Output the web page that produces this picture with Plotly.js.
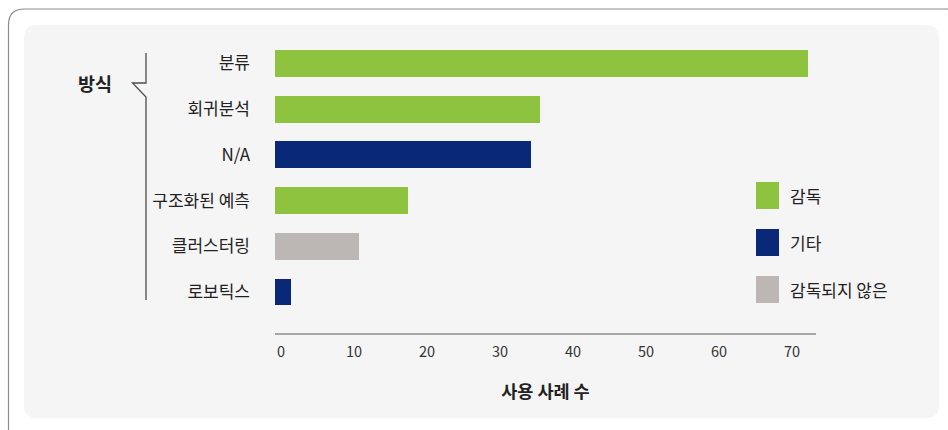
<!DOCTYPE html>
<html>
<head>
<meta charset="utf-8">
<script src="https://cdn.plot.ly/plotly-3.0.1.min.js"></script>
<style>
  html, body { margin: 0; padding: 0; background: #ffffff; }
  #chart { width: 948px; height: 430px; }
</style>
</head>
<body>
<div id="chart"></div>
<script>
// ---- Data ----
const categories = ['분류', '회귀분석', 'N/A', '구조화된 예측', '클러스터링', '로보틱스'];
const values = [73, 36.3, 35.1, 18.2, 11.5, 2.2];
const types = ['감독', '감독', '기타', '감독', '감독되지 않은', '기타'];
const legendNames = ['감독', '기타', '감독되지 않은'];
const legendColors = ['#8DC33E', '#0A2878', '#BCB6B5'];
const xTicks = [0, 10, 20, 30, 40, 50, 60, 70];
const groupLabel = '방식';
const xTitle = '사용 사례 수';

// ---- Layout geometry (pixels) ----
const W = 948, H = 430;
const ML = 275, MR = 132, MT = 40, MB = 97;
const plotW = W - ML - MR, plotH = H - MT - MB;
const px = p => (p - ML) / plotW;          // pixel x -> paper x
const py = p => (H - MB - p) / plotH;      // pixel y -> paper y
const FONT = '"Noto Sans CJK KR", "Noto Sans", sans-serif';

const traces = legendNames.map((name, k) => {
  const ys = [], xs = [];
  categories.forEach((c, i) => { if (types[i] === name) { ys.push(c); xs.push(values[i]); } });
  return {
    type: 'bar', orientation: 'h', name: name,
    x: xs, y: ys,
    marker: { color: legendColors[k] },
    hoverinfo: 'x+y', showlegend: false
  };
});

function roundRect(x0, y0, x1, y1, r) {
  const X0 = px(x0), X1 = px(x1), Y0 = py(y0), Y1 = py(y1);
  const rx = r / plotW, ry = r / plotH;
  return `M${X0 + rx},${Y0} L${X1 - rx},${Y0} Q${X1},${Y0} ${X1},${Y0 - ry} ` +
         `L${X1},${Y1 + ry} Q${X1},${Y1} ${X1 - rx},${Y1} L${X0 + rx},${Y1} ` +
         `Q${X0},${Y1} ${X0},${Y1 + ry} L${X0},${Y0 - ry} Q${X0},${Y0} ${X0 + rx},${Y0} Z`;
}

const shapes = [
  // outer card border
  { type: 'path', xref: 'paper', yref: 'paper', layer: 'below',
    path: roundRect(8.5, 9, 962, 445, 16), fillcolor: '#ffffff',
    line: { color: '#8c8c8c', width: 1.2 } },
  // inner panel
  { type: 'path', xref: 'paper', yref: 'paper', layer: 'below',
    path: roundRect(24, 25, 939, 418, 13), fillcolor: '#f5f5f5',
    line: { width: 0 } },
  // bracket
  { type: 'path', xref: 'paper', yref: 'paper', layer: 'above',
    path: `M${px(146)},${py(53)} L${px(146)},${py(83)} L${px(132.5)},${py(83)} ` +
          `L${px(146)},${py(97)} L${px(146)},${py(300)}`,
    line: { color: '#4d4d4d', width: 1.3 } }
];

const annotations = [
  { xref: 'paper', yref: 'paper', x: px(95), y: py(83), xanchor: 'center', yanchor: 'middle',
    text: '<b>' + groupLabel + '</b>', showarrow: false,
    font: { family: FONT, size: 18.5, color: '#222222' } }
];

// legend swatches & labels
const legTop = [182, 229, 276];
legendNames.forEach((name, k) => {
  shapes.push({ type: 'rect', xref: 'paper', yref: 'paper', layer: 'above',
    x0: px(756), x1: px(779), y0: py(legTop[k]), y1: py(legTop[k] + 27),
    fillcolor: legendColors[k], line: { width: 0 } });
  annotations.push({ xref: 'paper', yref: 'paper', x: px(788), y: py(legTop[k] + 13.5),
    xanchor: 'left', yanchor: 'middle', text: name, showarrow: false,
    font: { family: FONT, size: 17, color: '#222222' } });
});

const layout = {
  width: W, height: H,
  margin: { l: ML, r: MR, t: MT, b: MB, pad: 0 },
  paper_bgcolor: '#ffffff',
  plot_bgcolor: 'rgba(0,0,0,0)',
  barmode: 'stack',
  bargap: 0.41,
  showlegend: false,
  font: { family: FONT, color: '#222222' },
  xaxis: {
    range: [0, 74.1],
    tickvals: xTicks,
    ticktext: xTicks.map(String),
    showgrid: false, zeroline: false,
    showline: true, linecolor: '#a6a6a6', linewidth: 1.5,
    ticks: '',
    ticklabelshift: 6,
    ticklabelstandoff: 5,
    tickfont: { family: FONT, size: 14.5, color: '#333333' },
    title: { text: '<b>' + xTitle + '</b>', standoff: 26,
             font: { family: FONT, size: 17.5, color: '#222222' } },
    fixedrange: true
  },
  yaxis: {
    type: 'category',
    categoryorder: 'array', categoryarray: categories,
    range: [5.897, -0.514],
    autorange: false,
    showgrid: false, zeroline: false, showline: false,
    ticks: '',
    ticklabelstandoff: 24,
    tickfont: { family: FONT, size: 17, color: '#222222' },
    fixedrange: true
  },
  shapes: shapes,
  annotations: annotations
};

Plotly.newPlot('chart', traces, layout, { displayModeBar: false, staticPlot: true });
</script>
</body>
</html>
